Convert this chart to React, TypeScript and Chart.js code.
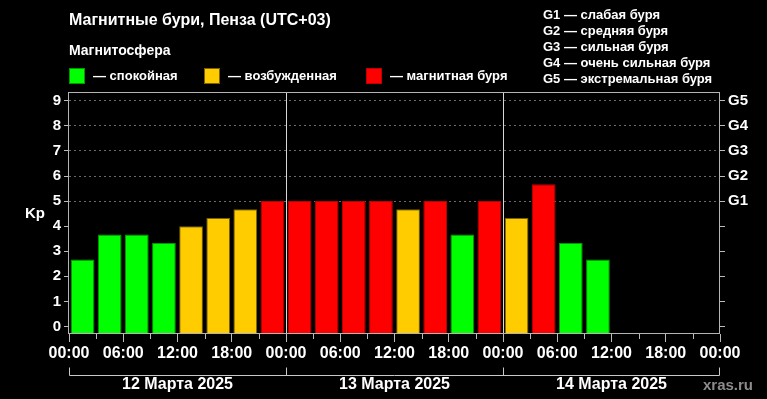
import React, { useEffect, useRef } from 'react';
import { Chart, registerables } from 'chart.js';

Chart.register(...registerables);

// ---- data ----
const KP_VALUES = [
  2.67, 3.67, 3.67, 3.33, 4.0, 4.33, 4.67, 5.0,
  5.0, 5.0, 5.0, 5.0, 4.67, 5.0, 3.67, 5.0,
  4.33, 5.67, 3.33, 2.67,
];
const SLOT_HOURS = 3;
const TOTAL_HOURS = 72;
const HOUR_LABELS = ['00:00', '06:00', '12:00', '18:00'];
const DAY_LABELS = ['12 Марта 2025', '13 Марта 2025', '14 Марта 2025'];
const KP_TICKS = [0, 1, 2, 3, 4, 5, 6, 7, 8, 9];
const G_LABELS = ['G1', 'G2', 'G3', 'G4', 'G5'];
const G_LEGEND = [
  'G1 — слабая буря',
  'G2 — средняя буря',
  'G3 — сильная буря',
  'G4 — очень сильная буря',
  'G5 — экстремальная буря',
];
const LEGEND_LABELS = ['— спокойная', '— возбужденная', '— магнитная буря'];
const TITLE = 'Магнитные бури, Пенза (UTC+03)';
const SUBTITLE = 'Магнитосфера';
const WATERMARK = 'xras.ru';

// ---- styles ----
const FONT = "'Liberation Sans', Arial, sans-serif";
const FILLS = ['#00ff00', '#ffcc00', '#ff0000'];
const BORDERS = ['#009a00', '#7a6200', '#c00000'];
const level = (v: number) => (v >= 5 ? 2 : v >= 4 ? 1 : 0);

const decorPlugin = {
  id: 'decor',
  beforeDraw(chart: any) {
    const ctx = chart.ctx;
    ctx.save();
    ctx.fillStyle = '#000';
    ctx.fillRect(0, 0, chart.width, chart.height);
    ctx.restore();
  },
  afterDraw(chart: any) {
    const ctx = chart.ctx;
    const area = chart.chartArea;
    const xs = chart.scales.x;
    ctx.save();
    ctx.textBaseline = 'middle';
    ctx.fillStyle = '#fff';
    ctx.textAlign = 'left';
    ctx.font = `bold 16px ${FONT}`;
    ctx.fillText(TITLE, 69, 21);
    ctx.font = `bold 14px ${FONT}`;
    ctx.fillText(SUBTITLE, 69, 51);

    // legend
    const legendX = [69, 204, 366];
    ctx.font = `bold 13px ${FONT}`;
    LEGEND_LABELS.forEach((lab, i) => {
      const x = legendX[i];
      ctx.fillStyle = FILLS[i];
      ctx.fillRect(x, 68, 16, 16);
      ctx.strokeStyle = BORDERS[i];
      ctx.lineWidth = 1;
      ctx.strokeRect(x + 0.5, 68.5, 15, 15);
      ctx.fillStyle = '#fff';
      ctx.fillText(lab, x + 24, 76);
    });

    // G legend
    ctx.font = `bold 13px ${FONT}`;
    G_LEGEND.forEach((t, i) => {
      ctx.fillText(t, 543, 15 + i * 16);
    });

    // Kp axis title
    ctx.font = `bold 15px ${FONT}`;
    ctx.fillText('Kp', 25, 214);

    // frame
    ctx.strokeStyle = '#b4b4b4';
    ctx.lineWidth = 1;
    ctx.strokeRect(
      Math.round(area.left) - 0.5,
      Math.round(area.top) + 0.5,
      Math.round(area.right - area.left),
      Math.round(area.bottom - area.top) - 1
    );

    // minor x ticks (every 3 h, not on 6 h)
    ctx.strokeStyle = '#bbb';
    ctx.beginPath();
    for (let h = SLOT_HOURS; h < TOTAL_HOURS; h += 2 * SLOT_HOURS) {
      const px = Math.round(xs.getPixelForValue(h)) + 0.5;
      ctx.moveTo(px, area.bottom);
      ctx.lineTo(px, area.bottom + 5);
    }
    ctx.stroke();

    // day bracket
    const by = 375.5;
    ctx.strokeStyle = '#c8c8c8';
    ctx.beginPath();
    const x0 = Math.round(xs.getPixelForValue(0)) + 0.5;
    const x1 = Math.round(xs.getPixelForValue(TOTAL_HOURS)) - 0.5;
    ctx.moveTo(x0, by);
    ctx.lineTo(x1, by);
    for (let d = 0; d <= DAY_LABELS.length; d++) {
      let px = Math.round(xs.getPixelForValue(d * 24)) + 0.5;
      if (d === DAY_LABELS.length) px = x1;
      ctx.moveTo(px, by);
      ctx.lineTo(px, by - 8);
    }
    ctx.stroke();

    ctx.fillStyle = '#fff';
    ctx.textAlign = 'center';
    ctx.font = `bold 16px ${FONT}`;
    DAY_LABELS.forEach((t, d) => {
      ctx.fillText(t, xs.getPixelForValue(d * 24 + 12), 385);
    });

    ctx.fillStyle = '#8c8c8c';
    ctx.font = `bold 15px ${FONT}`;
    ctx.textAlign = 'left';
    ctx.fillText(WATERMARK, 703, 386);
    ctx.restore();
  },
};

export default function App() {
  const ref = useRef<HTMLCanvasElement>(null);
  useEffect(() => {
    document.body.style.margin = '0';
    document.body.style.background = '#000';
    const data = KP_VALUES.map((v, i) => ({ x: i * SLOT_HOURS + SLOT_HOURS / 2, y: v }));
    const chart = new Chart(ref.current as HTMLCanvasElement, {
      type: 'bar',
      data: {
        datasets: [
          {
            data: data as any,
            base: -0.3,
            backgroundColor: KP_VALUES.map((v) => FILLS[level(v)]),
            borderColor: KP_VALUES.map((v) => BORDERS[level(v)]),
            borderWidth: 1,
            barPercentage: 0.875,
            categoryPercentage: 1,
            yAxisID: 'y',
          } as any,
        ],
      },
      options: {
        responsive: false,
        animation: false,
        devicePixelRatio: 1,
        layout: { padding: { top: 92, left: 0, right: 0, bottom: 0 } },
        plugins: { legend: { display: false }, tooltip: { enabled: false }, title: { display: false } },
        scales: {
          x: {
            type: 'linear',
            position: 'bottom',
            min: 0,
            max: TOTAL_HOURS,
            offset: false,
            afterBuildTicks: (s: any) => {
              const t = [];
              for (let h = 0; h <= TOTAL_HOURS; h += 2 * SLOT_HOURS) t.push({ value: h });
              s.ticks = t;
            },
            afterFit: (s: any) => {
              s.height = 65;
            },
            ticks: {
              autoSkip: false,
              maxRotation: 0,
              color: '#fff',
              padding: 2,
              font: { family: FONT, size: 16, weight: 'bold' },
              callback: (v: any) => HOUR_LABELS[(Number(v) % 24) / 6],
            },
            grid: {
              offset: false,
              drawOnChartArea: true,
              drawTicks: true,
              tickLength: 8,
              color: (c: any) =>
                c.tick && c.tick.value % 24 === 0 && c.tick.value > 0 && c.tick.value < TOTAL_HOURS
                  ? '#d8d8d8'
                  : 'rgba(0,0,0,0)',
              tickColor: '#bbb',
            },
            border: { display: false },
          } as any,
          y: {
            type: 'linear',
            position: 'left',
            min: -0.3,
            max: 9.35,
            afterBuildTicks: (s: any) => {
              s.ticks = KP_TICKS.map((v) => ({ value: v }));
            },
            afterFit: (s: any) => {
              s.width = 69;
            },
            ticks: {
              color: '#fff',
              padding: 3,
              font: { family: FONT, size: 15, weight: 'bold' },
              callback: (v: any) => String(v),
            },
            grid: {
              drawOnChartArea: true,
              tickLength: 5,
              color: (c: any) => (c.tick && c.tick.value >= 5 ? '#6a6a6a' : 'rgba(0,0,0,0)'),
              tickColor: '#bbb',
            },
            border: { display: false, dash: [2, 3] },
          } as any,
          g: {
            type: 'linear',
            position: 'right',
            min: -0.3,
            max: 9.35,
            afterBuildTicks: (s: any) => {
              s.ticks = KP_TICKS.map((v) => ({ value: v }));
            },
            afterFit: (s: any) => {
              s.width = 47;
            },
            ticks: {
              color: '#fff',
              padding: 3,
              font: { family: FONT, size: 15, weight: 'bold' },
              callback: (v: any) => (Number(v) >= 5 ? G_LABELS[Number(v) - 5] : ''),
            },
            grid: {
              drawOnChartArea: false,
              tickLength: 5,
              tickColor: '#bbb',
            },
            border: { display: false },
          } as any,
        },
      },
      plugins: [decorPlugin],
    });
    return () => chart.destroy();
  }, []);
  return (
    <div style={{ width: 767, height: 399, background: '#000' }}>
      <canvas ref={ref} width={767} height={399} style={{ display: 'block', width: '767px', height: '399px' }} />
    </div>
  );
}
